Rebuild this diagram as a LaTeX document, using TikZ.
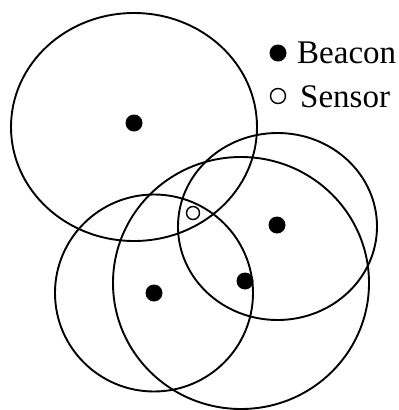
\documentclass[tikz,border=0pt]{standalone}
\usepackage{fontspec}
\setmainfont{Liberation Serif}
\usetikzlibrary{positioning}

\begin{document}
\begin{tikzpicture}[x=1pt, y=-1pt,
    beacon/.style={circle, fill, inner sep=0pt, minimum size=17pt},
    sensor/.style={circle, draw, fill=white, line width=1.4pt, inner sep=0pt, minimum size=13pt},
    coverage/.style={line width=1.9pt},
    legend/.style={anchor=base west, inner sep=0pt, font=\fontsize{33}{40}\selectfont}
]
\useasboundingbox (0,0) rectangle (399,410);
% beacons
\node[beacon] (b1) at (134,123) {};
\node[beacon] (b2) at (277,225) {};
\node[beacon] (b3) at (154,293) {};
\node[beacon] (b4) at (245,281) {};
% ranges
\draw[coverage] (134,127) ellipse [x radius=123, y radius=114];
\draw[coverage] (277.5,226.5) ellipse [x radius=99.5, y radius=93.5];
\draw[coverage] (b3) ellipse [x radius=99, y radius=98.5];
\draw[coverage] (241,283) ellipse [x radius=128, y radius=126];
% sensor
\node[sensor] (s) at (193,213) {};
% legend
\node[beacon] (lb) at (278,53) {};
\node[legend] (lbt) at (297,63) {Beacon};
\node[sensor, minimum size=15pt] (ls) at (278,96) {};
\node[legend] (lst) at (300,107) {Sensor};
\end{tikzpicture}
\end{document}
